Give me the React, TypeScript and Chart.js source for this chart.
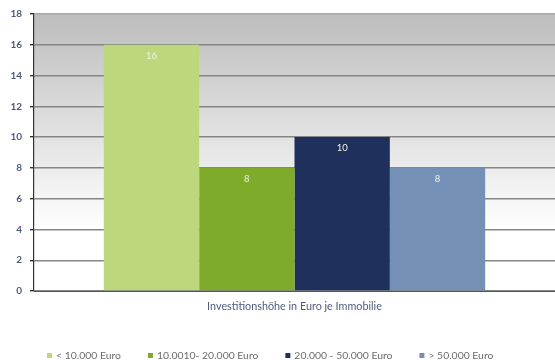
import React, { useEffect, useRef } from "react";
import { Chart, registerables } from "chart.js";

Chart.register(...registerables);

const categories = ["Investitionshöhe in Euro je Immobilie"];
const seriesLabels = ["< 10.000 Euro", "10.0010- 20.000 Euro", "20.000 - 50.000 Euro", "> 50.000 Euro"];
const seriesValues = [16, 8, 10, 8];
const seriesColors = ["#bdd77c", "#7eab29", "#1f305c", "#7490b7"];
const yTicks = [0, 2, 4, 6, 8, 10, 12, 14, 16, 18];

const FONT = "Lato, 'Open Sans', sans-serif";

const bgPlugin = {
  id: "bgGradient",
  beforeDraw(chart: any) {
    const { ctx, chartArea } = chart;
    if (!chartArea) return;
    const g = ctx.createLinearGradient(0, chartArea.top, 0, chartArea.bottom);
    g.addColorStop(0, "#bdbdbd");
    g.addColorStop(0.78, "#ffffff");
    g.addColorStop(1, "#ffffff");
    ctx.save();
    ctx.fillStyle = g;
    ctx.fillRect(chartArea.left, chartArea.top, chartArea.right - chartArea.left, chartArea.bottom - chartArea.top);
    ctx.restore();
  },
};

const labelPlugin = {
  id: "barLabels",
  afterDatasetsDraw(chart: any) {
    const { ctx } = chart;
    ctx.save();
    ctx.font = `9.5px ${FONT}`;
    ctx.fillStyle = "#eef3e6";
    ctx.textAlign = "center";
    ctx.textBaseline = "middle";
    chart.data.datasets.forEach((ds: any, i: number) => {
      const meta = chart.getDatasetMeta(i);
      meta.data.forEach((bar: any, j: number) => {
        ctx.fillText(String(ds.data[j]), bar.x, bar.y + 11);
      });
    });
    ctx.restore();
  },
};

const legendPlugin = {
  id: "customLegend",
  afterDraw(chart: any) {
    const { ctx } = chart;
    ctx.save();
    ctx.font = `10.4px ${FONT}`;
    ctx.textBaseline = "middle";
    const box = 5;
    const gap = 4;
    const pad = 27;
    const y = 355.5;
    let x = 47;
    chart.data.datasets.forEach((ds: any) => {
      ctx.fillStyle = ds.backgroundColor;
      ctx.fillRect(x, y - box / 2, box, box);
      ctx.fillStyle = "#6b6b6b";
      const tx = x + box + gap;
      ctx.fillText(ds.label, tx, y);
      x = tx + ctx.measureText(ds.label).width + pad;
    });
    ctx.restore();
  },
};

export default function App() {
  const ref = useRef<HTMLCanvasElement>(null);
  useEffect(() => {
    document.body.style.margin = "0";
    const chart = new Chart(ref.current!, {
      type: "bar",
      data: {
        labels: categories,
        datasets: seriesLabels.map((label, i) => ({
          label,
          data: [seriesValues[i]],
          backgroundColor: seriesColors[i],
          borderWidth: 0,
          categoryPercentage: 0.732,
          barPercentage: 1,
        })),
      },
      options: {
        animation: false,
        responsive: false,
        maintainAspectRatio: false,
        layout: { padding: { top: 14, right: 0, left: 0, bottom: 0 } },
        plugins: {
          legend: { display: false },
          tooltip: { enabled: false },
        },
        scales: {
          x: {
            grid: { display: false, drawTicks: false },
            border: { display: true, color: "#555555", width: 1 },
            ticks: {
              padding: 9,
              color: "#4f5b7d",
              font: { family: FONT, size: 10.8 },
            },
            afterFit(scale: any) {
              scale.height = 69;
            },
          },
          y: {
            min: 0,
            max: 18,
            afterBuildTicks(scale: any) {
              scale.ticks = yTicks.map((v) => ({ value: v }));
            },
            grid: {
              color: (c: any) => (c.tick && c.tick.value === 18 ? "#a9a9a9" : "#868686"),
              lineWidth: 1.4,
              tickLength: 4,
              tickColor: "#333333",
            },
            border: { display: true, color: "#333333", width: 1.2 },
            ticks: {
              padding: 8,
              color: "#4f5b7d",
              font: { family: FONT, size: 10, weight: "bold" },
            },
            afterFit(scale: any) {
              scale.width = 34;
            },
          },
        },
      },
      plugins: [bgPlugin, labelPlugin, legendPlugin],
    });
    return () => chart.destroy();
  }, []);
  return (
    <div style={{ width: 555, height: 360 }}>
      <canvas ref={ref} width={555} height={360} style={{ display: "block" }} />
    </div>
  );
}
